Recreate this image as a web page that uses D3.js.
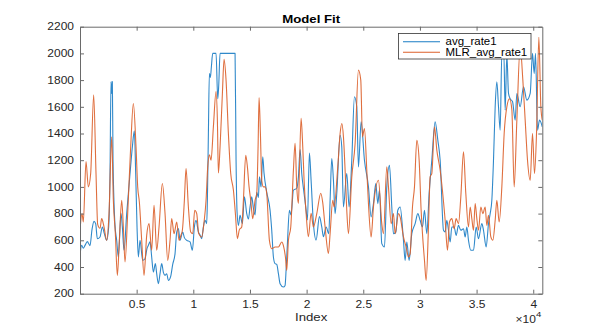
<!DOCTYPE html>
<html><head><meta charset="utf-8">
<script src="https://cdn.jsdelivr.net/npm/d3@7"></script>
<style>body{margin:0;background:#fff;} svg{display:block;font-family:"Liberation Sans",Arial,Helvetica,sans-serif;}</style>
</head><body>
<svg id="c" width="600" height="332"></svg>
<script>
// ---- data ----
const blueIndex = [0,147,294,441,647,883,1059,1236,1383,1530,1766,1972,2148,2354,2531,2649,2737,2796,2855,2914,3090,3237,3384,3620,3738,3885,4120,4415,4621,4797,4915,5033,5150,5297,5533,5739,5915,6033,6180,6327,6475,6651,6769,6916,7063,7210,7358,7505,7652,7799,8005,8182,8388,8535,8682,8829,9064,9212,9418,9712,9918,10094,10242,10448,10595,10742,10889,11036,11183,11242,11331,11419,11507,11595,11713,12007,12155,12243,12361,13685,13773,13862,13979,14126,14332,14509,14715,14862,15009,15156,15304,15451,15598,15745,15833,15980,16128,16245,16481,16775,16922,17069,17217,17364,17511,17658,17952,18099,18188,18305,18482,18629,18835,19130,19277,
19424,19571,19777,19954,20071,20248,20395,20601,20837,21131,21337,21484,21720,21955,22073,22220,22367,22514,22661,22956,23103,23250,23544,23750,23986,24221,24427,24575,24810,25104,25457,25693,25899,26105,26281,26428,26634,26870,27076,27311,27517,27664,27870,28047,28253,28547,28694,28842,29048,29283,29577,29813,30019,30225,30401,30607,30813,31049,31343,31579,31785,32079,
32226,32373,32520,32668,32815,33021,33197,33403,33609,33845,33992,34139,34286,34492,34728,34963,35169,35463,35611,35846,36052,36199,36346,36493,36641,36788,36935,37082,37229,37406,37523,37671,37818,37965,38171,38406,38554,38848,39142,39436,39731,39937,40084,40202,40378,40555,40800];
const blueValues = [490,562,540,562,590,560,680,742,725,612,625,700,650,600,700,1100,1790,1700,1790,1200,712,600,475,800,700,525,800,1100,1300,1420,1100,700,475,600,450,462,540,562,588,475,362,425,350,275,350,425,360,337,350,300,330,420,500,662,688,600,662,620,600,588,525,700,750,662,640,612,700,750,725,900,1400,1850,1820,1900,2000,2000,1660,1760,2000,2000,1200,812,712,787,725,925,800,760,850,925,840,790,960,920,1075,1000,1225,1100,960,825,675,475,425,420,350,275,250,262,375,575,825,790,975,990,1075,
1280,1100,950,827,752,1254,1050,727,602,777,700,627,700,650,900,1212,1050,800,950,1387,1300,850,1100,850,1200,1675,1600,1150,1487,1200,1000,775,875,1025,875,975,575,550,1000,1162,850,650,660,825,850,600,450,587,450,650,725,800,750,700,825,650,950,1200,1487,1350,1200,675,
662,750,675,587,700,700,637,712,675,687,625,700,600,525,525,700,612,725,675,550,725,800,900,1200,1600,1787,1600,1425,2000,2000,1575,1990,1700,1660,1640,1500,1700,1600,1750,1650,1700,2000,1850,2000,1425,1500,1450];

const mlrIndex = [0,177,294,530,736,942,1207,1413,1560,1766,1913,2119,2354,2560,2796,2943,3120,3296,3473,3679,3826,3973,4208,4473,4709,4944,5091,5239,5445,5651,5886,6092,6327,6533,6769,6975,7269,7505,7740,7946,8093,8299,8535,8741,8917,9035,9212,9359,9565,9771,9947,10124,10301,10477,10742,10948,11125,11272,11419,11566,11772,12007,12125,12213,12361,12567,12714,12890,13096,13302,13538,13714,13891,14067,14273,14421,14627,14774,14921,15068,15245,15451,15598,15716,15804,15922,16039,16187,16334,16481,16716,16922,17217,17511,17805,17952,18129,18247,18394,18600,
18835,18982,19130,19277,19365,19512,19659,19777,19954,20160,20395,20601,20896,21249,21425,21631,21926,22073,22308,22426,22750,22956,23103,23250,23397,23544,23691,23986,24280,24575,24780,24927,25104,25310,25457,25693,25899,26340,26634,26782,27076,27223,27459,27664,27812,28106,28253,28547,28783,28989,29136,29342,29519,29725,29931,30107,30225,30401,30549,30755,30902,31049,31284,31491,31785,32226,32432,
32609,32815,33021,33197,33403,33609,33845,34050,34286,34433,34581,34728,34875,35022,35169,35375,35552,35758,35905,36052,36258,36435,36641,36788,36994,37229,37435,37671,37906,38112,38318,38554,38848,39083,39289,39495,39731,39937,40113,40290,40496,40672,40800];
const mlrValues = [675,800,737,1190,1000,1100,1690,1100,720,690,762,700,600,800,1375,900,650,337,600,900,700,437,800,1300,1625,1300,1000,887,600,337,637,725,525,862,525,700,1025,800,450,600,762,650,737,600,640,675,900,1137,850,662,650,825,800,650,625,737,900,1150,1240,1200,1450,1715,1500,1104,1300,1700,1955,1800,1400,1100,977,800,612,680,700,900,1237,1150,1000,900,762,900,950,1300,1670,1400,1050,1000,1000,950,600,537,550,550,587,560,475,375,600,700,
1126,1326,1001,877,1126,1514,1300,1050,803,627,803,700,800,952,880,700,502,650,900,850,1150,1400,1475,1375,1125,825,650,1075,1325,1875,1800,1375,1437,1125,875,625,850,1050,725,650,1150,1000,725,800,650,800,775,625,550,475,500,850,1000,1350,1200,825,650,450,300,700,1075,1100,1450,1275,1125,750,525,
737,762,687,762,725,925,1262,950,700,850,762,675,875,762,675,850,800,850,712,787,625,600,750,900,737,1000,1400,1600,1660,1580,1000,1500,2050,1800,1500,1200,1050,1400,1100,1400,2120,1600,1500];

const seriesNames = ["avg_rate1", "MLR_avg_rate1"];
const seriesColors = ["#1a7cc4", "#dc5f2a"];
const xTicks = [5000,10000,15000,20000,25000,30000,35000,40000];
const xTickLabels = ["0.5","1","1.5","2","2.5","3","3.5","4"];
const yTicks = [200,400,600,800,1000,1200,1400,1600,1800,2000,2200];
const titleText = "Model Fit";
const xLabel = "Index";

// ---- layout ----
const L = 80, R = 542.3, T = 26.7, B = 293.7;
const SX = 1.2; // horizontal stretch of the reference's text
const axisColor = "#6a6a6a";
const textColor = "#262626";

const svg = d3.select("#c");
const x = d3.scaleLinear().domain([0, 40800]).range([L, R]);
const y = d3.scaleLinear().domain([200, 2200]).range([B, T]);

svg.append("rect").attr("width",600).attr("height",332).attr("fill","#fff");
svg.append("clipPath").attr("id","clip").append("rect")
  .attr("x",L).attr("y",T).attr("width",R-L).attr("height",B-T);

function pairs(ix, vals){
  const n = Math.min(ix.length, vals.length);
  return d3.range(n).map(i => [ix[i], vals[i]]);
}
const series = [
  {name: seriesNames[0], color: seriesColors[0], pts: pairs(blueIndex, blueValues)},
  {name: seriesNames[1], color: seriesColors[1], pts: pairs(mlrIndex, mlrValues)}
];
const line = d3.line().x(d=>x(d[0])).y(d=>y(d[1])).curve(d3.curveMonotoneX);
const g = svg.append("g").attr("clip-path","url(#clip)");
series.forEach(s => {
  g.append("path").attr("d", line(s.pts)).attr("fill","none")
    .attr("stroke", s.color).attr("stroke-width",1.1).attr("stroke-opacity",0.9)
    .attr("stroke-linejoin","round");
});

// axes
function styleAxis(sel){
  sel.select(".domain").attr("stroke", axisColor);
  sel.selectAll(".tick line").attr("stroke", axisColor);
  sel.selectAll("text").attr("fill", textColor).attr("font-size", 10)
    .attr("font-family", '"Liberation Sans",Arial,sans-serif');
}
const xb = svg.append("g").attr("transform",`translate(0,${B})`)
  .call(d3.axisBottom(x).tickValues(xTicks).tickFormat((d,i)=>xTickLabels[i]).tickSizeInner(-4).tickSizeOuter(0).tickPadding(7));
styleAxis(xb);
xb.selectAll("text").attr("transform",`scale(${SX},1)`);

const xt = svg.append("g").attr("transform",`translate(0,${T})`)
  .call(d3.axisTop(x).tickValues(xTicks).tickFormat(()=>"").tickSizeInner(-4).tickSizeOuter(0));
styleAxis(xt);

const yl = svg.append("g").attr("transform",`translate(${L},0)`)
  .call(d3.axisLeft(y).tickValues(yTicks).tickFormat(d3.format("d")).tickSizeInner(-4).tickSizeOuter(0).tickPadding(6));
styleAxis(yl);
yl.selectAll("text").attr("x", -6/SX).attr("transform",`scale(${SX},1)`);

const yr = svg.append("g").attr("transform",`translate(${R},0)`)
  .call(d3.axisRight(y).tickValues(yTicks).tickFormat(()=>"").tickSizeInner(-4).tickSizeOuter(0));
styleAxis(yr);

// title and labels
const cx = (L+R)/2;
svg.append("text").attr("transform",`translate(${cx},22.5) scale(${SX},1)`)
  .attr("text-anchor","middle").attr("font-weight","bold").attr("font-size",11)
  .attr("fill","#000").text(titleText);
svg.append("text").attr("transform",`translate(${cx},321) scale(${SX},1)`)
  .attr("text-anchor","middle").attr("font-size",11).attr("fill",textColor).text(xLabel);
const ex = svg.append("text").attr("transform",`translate(${R-1},323) scale(${SX},1)`)
  .attr("text-anchor","end").attr("font-size",10).attr("fill",textColor);
ex.append("tspan").text("\u00d710");
ex.append("tspan").attr("dy",-6).attr("font-size",8).text("4");

// legend
const lg = svg.append("g");
lg.append("rect").attr("x",398.5).attr("y",33.5).attr("width",132.5).attr("height",25.5)
  .attr("fill","#fff").attr("stroke","#333").attr("stroke-width",0.8);
series.forEach((s,i)=>{
  const yy = 41.7 + i*10.6;
  lg.append("line").attr("x1",403).attr("x2",440).attr("y1",yy).attr("y2",yy)
    .attr("stroke",s.color).attr("stroke-width",1.1);
  lg.append("text").attr("transform",`translate(445.5,${yy+3.4}) scale(1.15,1)`)
    .attr("font-size",10).attr("fill","#000").text(s.name);
});
</script>
</body></html>
